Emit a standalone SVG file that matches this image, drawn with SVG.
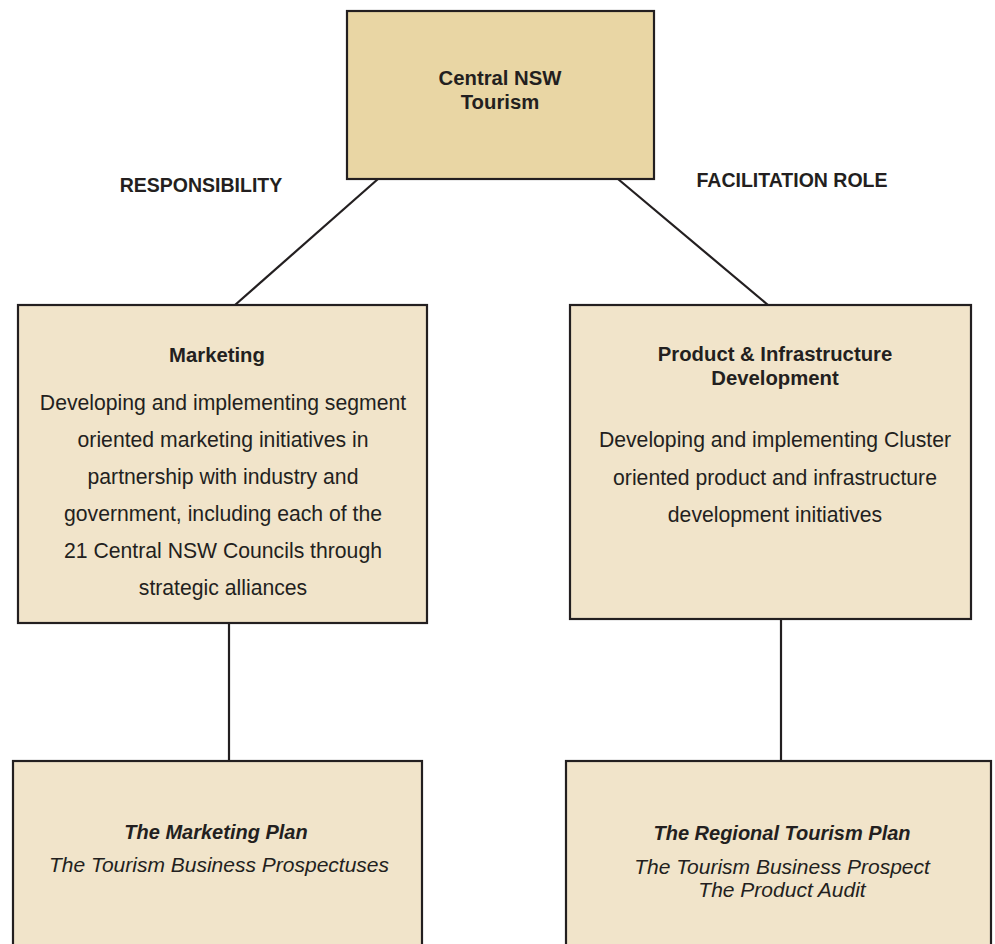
<svg xmlns="http://www.w3.org/2000/svg" width="995" height="944" viewBox="0 0 995 944">
<style>
  text { font-family: "Liberation Sans", Arial, sans-serif; fill: #231f20; text-anchor: middle; }
  .box { stroke: #231f20; stroke-width: 2.2; }
  .top { fill: #e9d6a4; }
  .mid { fill: #f1e4ca; }
  .h { font-weight: bold; font-size: 20.3px; }
  .b { font-size: 21.2px; }
  .lbl { font-weight: bold; font-size: 19.5px; }
  .hi { font-weight: bold; font-style: italic; font-size: 20px; }
  .i { font-style: italic; font-size: 21px; }
  .conn line { stroke: #231f20; stroke-width: 2.2; }
</style>
<rect width="995" height="944" fill="#ffffff"/>
<g id="connectors" class="conn">
  <line x1="378" y1="179" x2="235" y2="305"/>
  <line x1="618" y1="179" x2="768" y2="305"/>
  <line x1="229" y1="623" x2="229" y2="761"/>
  <line x1="781" y1="619" x2="781" y2="761"/>
</g>
<g id="labels">
  <text class="lbl" x="201" y="192">RESPONSIBILITY</text>
  <text class="lbl" x="792" y="187">FACILITATION ROLE</text>
</g>
<g id="central">
  <rect class="box top" x="347" y="11" width="307" height="168"/>
  <text class="h" x="500" y="85">Central NSW</text>
  <text class="h" x="500" y="109">Tourism</text>
</g>
<g id="marketing">
  <rect class="box mid" x="18" y="305" width="409" height="318"/>
  <text class="h" x="217" y="362">Marketing</text>
  <text class="b" x="223" y="410">Developing and implementing segment</text>
  <text class="b" x="223" y="447">oriented marketing initiatives in</text>
  <text class="b" x="223" y="484">partnership with industry and</text>
  <text class="b" x="223" y="521">government, including each of the</text>
  <text class="b" x="223" y="558">21 Central NSW Councils through</text>
  <text class="b" x="223" y="595">strategic alliances</text>
</g>
<g id="product">
  <rect class="box mid" x="570" y="305" width="401" height="314"/>
  <text class="h" x="775" y="361">Product &amp; Infrastructure</text>
  <text class="h" x="775" y="385">Development</text>
  <text class="b" x="775" y="447">Developing and implementing Cluster</text>
  <text class="b" x="775" y="485">oriented product and infrastructure</text>
  <text class="b" x="775" y="522">development initiatives</text>
</g>
<g id="marketing-plan">
  <rect class="box mid" x="13" y="761" width="409" height="200"/>
  <text class="hi" x="216" y="839">The Marketing Plan</text>
  <text class="i" x="219" y="872">The Tourism Business Prospectuses</text>
</g>
<g id="regional-plan">
  <rect class="box mid" x="566" y="761" width="425" height="200"/>
  <text class="hi" x="782" y="840">The Regional Tourism Plan</text>
  <text class="i" x="782" y="874">The Tourism Business Prospect</text>
  <text class="i" x="782" y="897">The Product Audit</text>
</g>
</svg>
